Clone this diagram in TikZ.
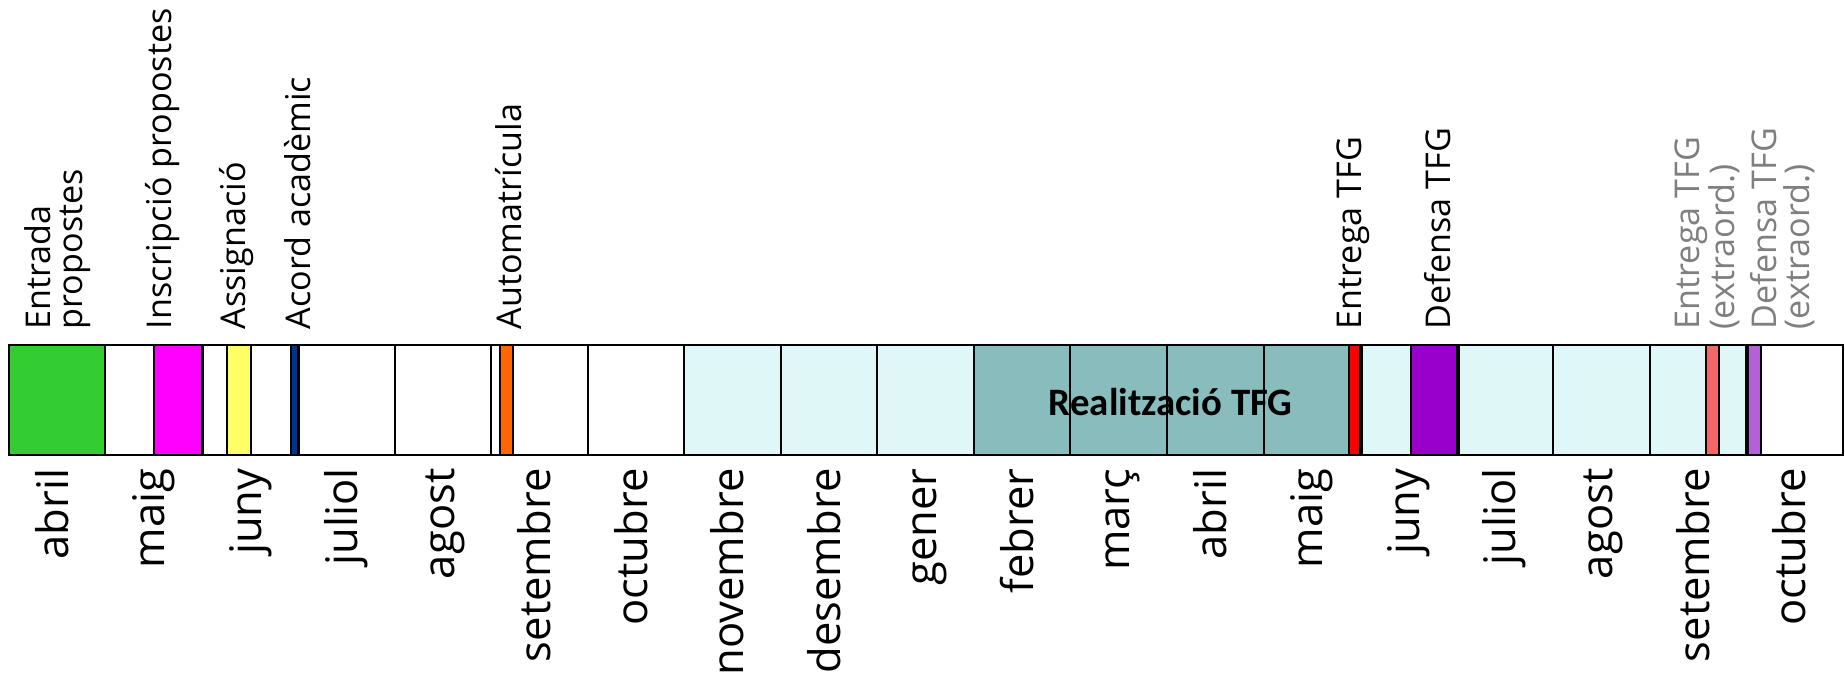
\documentclass[tikz,border=0pt]{standalone}
\usepackage{fontspec}
\setmainfont{Open Sans}
\newfontfamily\calfont{Carlito}
\definecolor{cgreen}{HTML}{33CC33}
\definecolor{cmagenta}{HTML}{FF00FF}
\definecolor{cyellow}{HTML}{FFFF66}
\definecolor{cnavy}{HTML}{003399}
\definecolor{corange}{HTML}{FF6600}
\definecolor{clcyan}{HTML}{E0F7F8}
\definecolor{cteal}{HTML}{89BCBD}
\definecolor{cred}{HTML}{FF0000}
\definecolor{cpurple}{HTML}{9900CC}
\definecolor{csalmon}{HTML}{F06868}
\definecolor{corchid}{HTML}{B660D6}
\definecolor{cgray}{HTML}{7F7F7F}
\begin{document}
\begin{tikzpicture}[x=1pt,y=-1pt,
  cell/.style={draw=black,line width=1.7pt},
  monthlab/.style={rotate=90,anchor=east,inner sep=0pt,font=\fontsize{37}{37}\selectfont,text height=28pt,text depth=9pt},
  evlab/.style={rotate=90,anchor=west,inner sep=0pt,font=\fontsize{29}{28}\selectfont,align=left},
  extralab/.style={evlab,text=cgray},
  barlab/.style={inner sep=0pt,font=\calfont\bfseries\fontsize{33}{33}\selectfont}
]
\useasboundingbox[fill=white] (0,0) rectangle (1568,572);
\def\xo{7.4}\def\mw{82.03}\def\yt{293}\def\yb{387}
% month cells
\foreach \i/\c in {0/cgreen,1/white,2/white,3/white,4/white,5/white,6/white,
  7/clcyan,8/clcyan,9/clcyan,10/cteal,11/cteal,12/cteal,13/cteal,
  14/clcyan,15/clcyan,16/clcyan,17/clcyan,18/white}{
  \fill[\c] ({\xo+\mw*\i},\yt) rectangle ({\xo+\mw*(\i+1)},\yb);
}
% event blocks
\fill[cmagenta] (131,\yt) rectangle (172.4,\yb);
\fill[cyellow] (192.9,\yt) rectangle (213.4,\yb);
\fill[cnavy] (247.3,\yt) rectangle (254.4,\yb);
\fill[corange] (425,\yt) rectangle (435.8,\yb);
\fill[cred] (1146.7,\yt) rectangle (1157.9,\yb);
\fill[cpurple] (1198.9,\yt) rectangle (1240.1,\yb);
\fill[csalmon] (1449.8,\yt) rectangle (1461,\yb);
\fill[corchid] (1485.8,\yt) rectangle (1497,\yb);
% borders
\foreach \i in {0,...,18}{
  \draw[cell] ({\xo+\mw*\i},\yt) rectangle ({\xo+\mw*(\i+1)},\yb);
}
\draw[cell] (131,\yt) rectangle (172.4,\yb);
\draw[cell] (192.9,\yt) rectangle (213.4,\yb);
\draw[cell] (247.3,\yt) rectangle (254.4,\yb);
\draw[cell] (425,\yt) rectangle (435.8,\yb);
\draw[cell] (1146.7,\yt) rectangle (1157.9,\yb);
\draw[cell] (1198.9,\yt) rectangle (1240.1,\yb);
\draw[cell] (1449.8,\yt) rectangle (1461,\yb);
\draw[cell] (1485.8,\yt) rectangle (1497,\yb);
% bar label
\node[barlab] (real) at (995,342) {Realització TFG};
% month labels
\foreach \i/\m in {0/abril,1/maig,2/juny,3/juliol,4/agost,5/setembre,6/octubre,
  7/novembre,8/desembre,9/gener,10/febrer,11/març,12/abril,13/maig,
  14/juny,15/juliol,16/agost,17/setembre,18/octubre}{
  \node[monthlab] (m\i) at ({\xo+\mw*(\i+0.5)},398) {\m};
}
% event labels
\node[evlab] (e1) at (49,280) {Entrada\\propostes};
\node[evlab] (e2) at (138,280) {Inscripció propostes};
\node[evlab] (e3) at (201,280) {Assignació};
\node[evlab] (e4) at (253,280) {Acord acadèmic};
\node[evlab] (e5) at (432,280) {Automatrícula};
\node[evlab] (e6) at (1150,280) {Entrega TFG};
\node[evlab] (e7) at (1222,280) {Defensa TFG};
\node[extralab] (e8) at (1451,280) {Entrega TFG\\(extraord.)};
\node[extralab] (e9) at (1515,280) {Defensa TFG\\(extraord.)};
\end{tikzpicture}
\end{document}
